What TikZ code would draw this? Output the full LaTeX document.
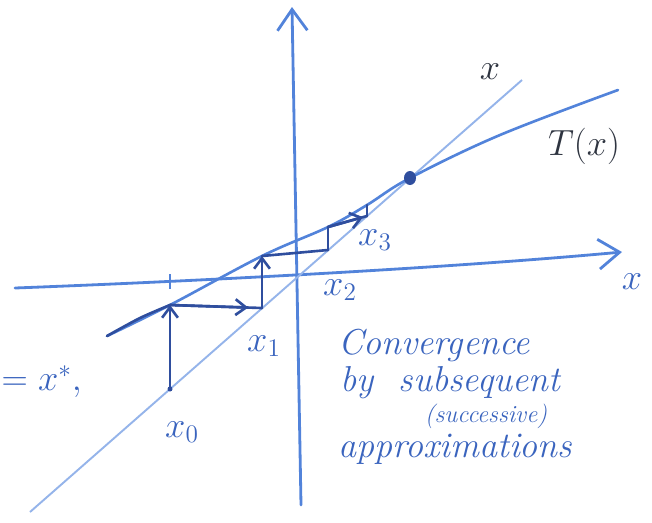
\documentclass[tikz,border=0pt]{standalone}
\usepackage{tikz}
\usetikzlibrary{
	arrows.meta,
	positioning,
	calc
}
\usepackage{xcolor}

\definecolor{penblue}{HTML}{5283DA}
\definecolor{paleblue}{HTML}{95B4EA}
\definecolor{inkblue}{HTML}{2F4E9E}
\definecolor{textblue}{HTML}{3A64BE}
\definecolor{pencil}{HTML}{2E3440}

\tikzset{
	axis/.style={penblue, line width=1.6pt, line cap=round,
		-{Straight Barb[length=12pt,width=17pt]}},
	idline/.style={paleblue, line width=1.1pt},
	tline/.style={penblue, line width=1.5pt, line cap=round},
	ink/.style={inkblue, line width=1.5pt, line cap=round},
	inkarrow/.style={ink, -{Straight Barb[length=6pt,width=9pt]}},
	lbl/.style={textblue, font=\fontsize{22}{26}\selectfont},
	note/.style={textblue, anchor=west, inner sep=0pt,
		font=\fontsize{20.5}{24}\selectfont\itshape},
	smallnote/.style={textblue, inner sep=0pt,
		font=\fontsize{14}{16}\selectfont\itshape}
}

\begin{document}
\begin{tikzpicture}[x=0.02cm, y=-0.02cm]
		\useasboundingbox (0,0) rectangle (652,522);
		
		% Axes
		\draw[axis] (15,288) .. controls (200,281) and (450,268) .. (622,252);
		\draw[axis] (301,505) -- (292,7);
		\draw[penblue, line width=1.4pt] (170,274) -- (170,289);
		
		% Line y = x
		\coordinate (d0) at (30,512);
		\coordinate (d1) at (522,80);
		\draw[idline] (d0) -- (d1);
		
		% Iterates on the diagonal and on T
		\coordinate (p0) at (170,389);
		\coordinate (q0) at (170,305);
		\coordinate (p1) at (262,308);
		\coordinate (q1) at (262,256);
		\coordinate (p2) at (328,250);
		\coordinate (q2) at (328,227);
		\coordinate (p3) at (367,216);
		\coordinate (q3) at (367,205);
		\coordinate (fix) at (410,178);
		
		% T(x) curve
		\draw[tline] plot[smooth, tension=0.6] coordinates
		{(107,336) (q0) (q1) (q2) (q3) (fix) (500,135) (618,90)};
		\draw[ink] plot[smooth] coordinates {(107,336) (140,318) (q0)};
		
		% Staircase
		\draw[inkarrow] (p0) -- (q0);
		\draw[ink] (q0) -- (p1);
		\draw[inkarrow] (q0) -- ($(q0)!0.85!(p1)$);
		\draw[inkarrow] (p1) -- (q1);
		\draw[ink] (q1) -- (p2);
		\draw[ink] (p2) -- (q2);
		\draw[ink] (q2) -- (p3);
		\draw[inkarrow] (q2) -- ($(q2)!0.9!(p3)$);
		\draw[ink] (p3) -- (q3);
		
		\fill[inkblue] (p0) circle (2.5);
		\fill[inkblue] (fix) ellipse (6 and 7);
		
		% Labels
		\node[lbl, text=pencil] (xid) at (490,72) {$x$};
		\node[lbl, text=pencil] (tx) at (584,146) {$T(x)$};
		\node[lbl] (xaxis) at (632,282) {$x$};
		\node[lbl] (x0) at (182,432) {$x_0$};
		\node[lbl] (x1) at (264,346) {$x_1$};
		\node[lbl] (x2) at (340,290) {$x_2$};
		\node[lbl] (x3) at (375,240) {$x_3$};
		\node[lbl, anchor=east] (xstar) at (88,382) {$=x^*,$};
		
		\node[note] (conv) at (338,345) {Convergence};
		\node[note] (by) at (340,383) {by\ \ subsequent};
		\node[smallnote] (succ) at (486,416) {(successive)};
		\node[note] (appr) at (338,449) {approximations};
		
	\end{tikzpicture}
\end{document}
